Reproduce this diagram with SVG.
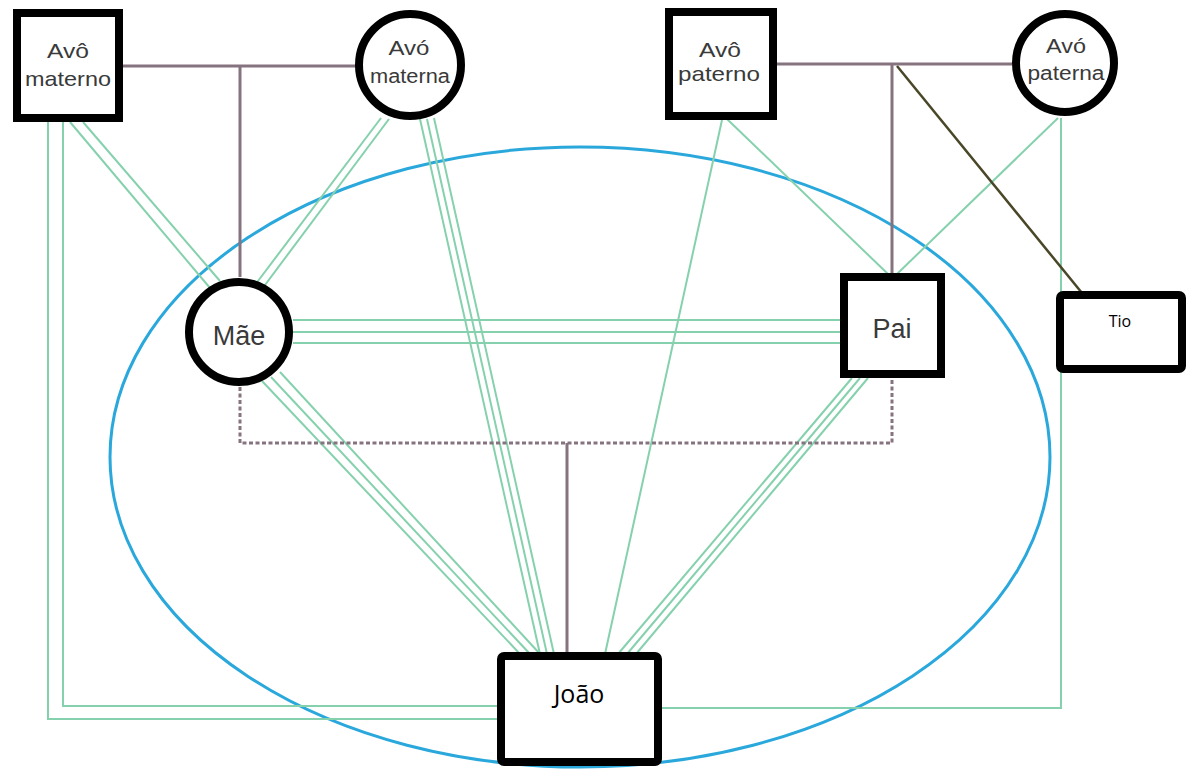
<svg xmlns="http://www.w3.org/2000/svg" width="1192" height="771" viewBox="0 0 1192 771">
<style>
.g{stroke:#86d1ad;stroke-width:2;fill:none}
.p{stroke:#85737f;stroke-width:3;fill:none}
.d{stroke:#85737f;stroke-width:3;fill:none;stroke-dasharray:4 2.5}
.n{fill:#fff;stroke:#000;stroke-width:8}
.t{font-family:"Liberation Sans",Arial,sans-serif;fill:#3a3a3a;text-anchor:middle}
.c{font-family:"Open Sans","Liberation Sans",sans-serif;fill:#000;text-anchor:middle}
</style>
<rect width="1192" height="771" fill="#fff"/>
<ellipse cx="580" cy="457" rx="470" ry="310" fill="none" stroke="#2aa8dc" stroke-width="3"/>
<g id="connectors">
<!-- Avô materno to João (L-shaped) -->
<polyline class="g" points="48,122 48,719 498,719"/>
<polyline class="g" points="63,122 63,706 498,706"/>
<!-- Avô materno to Mãe -->
<line class="g" x1="70" y1="122" x2="210" y2="288"/>
<line class="g" x1="83" y1="122" x2="220" y2="281"/>
<!-- Avó materna to Mãe -->
<line class="g" x1="381" y1="118" x2="255" y2="285"/>
<line class="g" x1="389" y1="119" x2="262" y2="289"/>
<!-- Avó materna to João -->
<line class="g" x1="420" y1="119" x2="540" y2="654"/>
<line class="g" x1="427" y1="119" x2="547" y2="654"/>
<line class="g" x1="434" y1="118" x2="554" y2="654"/>
<!-- Mãe to Pai -->
<line class="g" x1="293" y1="320" x2="840" y2="320"/>
<line class="g" x1="293" y1="332" x2="840" y2="332"/>
<line class="g" x1="293" y1="343" x2="840" y2="343"/>
<!-- Mãe to João -->
<line class="g" x1="262" y1="381" x2="520" y2="654"/>
<line class="g" x1="271" y1="377" x2="530" y2="654"/>
<line class="g" x1="280" y1="372" x2="540" y2="654"/>
<!-- Pai to João -->
<line class="g" x1="852" y1="378" x2="618" y2="654"/>
<line class="g" x1="860" y1="378" x2="627" y2="654"/>
<line class="g" x1="868" y1="378" x2="636" y2="654"/>
<!-- Avô paterno to João -->
<line class="g" x1="722" y1="120" x2="605" y2="654"/>
<!-- Avô paterno to Pai -->
<line class="g" x1="727" y1="119" x2="888" y2="274"/>
<!-- Avó paterna to Pai -->
<line class="g" x1="1058" y1="118" x2="897" y2="274"/>
<!-- Avó paterna to João (L-shaped) -->
<polyline class="g" points="1061,118 1061,708 662,708"/>
<!-- marriage lines -->
<line class="p" x1="123" y1="66" x2="358" y2="66"/>
<line class="p" x1="240" y1="66" x2="240" y2="277"/>
<line class="p" x1="777" y1="64" x2="1012" y2="64"/>
<line class="p" x1="892" y1="64" x2="892" y2="273"/>
<polyline class="d" points="240,387 240,443 892,443 892,378"/>
<line class="p" x1="567" y1="443" x2="567" y2="652"/>
<!-- Tio line -->
<line x1="897" y1="66" x2="1082" y2="293" stroke="#4a4628" stroke-width="2.5"/>
</g>
<g id="avo-materno">
<rect class="n" x="17" y="13" width="102" height="105"/>
<text class="t" x="68" y="58" font-size="21" textLength="42" lengthAdjust="spacingAndGlyphs">Avô</text>
<text class="t" x="68" y="86" font-size="21" textLength="86" lengthAdjust="spacingAndGlyphs">materno</text>
</g>
<g id="avo-materna">
<circle class="n" cx="410" cy="65" r="51"/>
<text class="t" x="409" y="55" font-size="20" textLength="41" lengthAdjust="spacingAndGlyphs">Avó</text>
<text class="t" x="410" y="83" font-size="20" textLength="80" lengthAdjust="spacingAndGlyphs">materna</text>
</g>
<g id="avo-paterno">
<rect class="n" x="669" y="12" width="104" height="104"/>
<text class="t" x="720" y="57" font-size="21" textLength="42" lengthAdjust="spacingAndGlyphs">Avô</text>
<text class="t" x="719" y="81" font-size="21" textLength="82" lengthAdjust="spacingAndGlyphs">paterno</text>
</g>
<g id="avo-paterna">
<circle class="n" cx="1065" cy="63" r="49"/>
<text class="t" x="1066" y="53" font-size="20" textLength="40" lengthAdjust="spacingAndGlyphs">Avó</text>
<text class="t" x="1066" y="80" font-size="20" textLength="77" lengthAdjust="spacingAndGlyphs">paterna</text>
</g>
<g id="mae">
<circle class="n" cx="239" cy="332" r="50"/>
<text class="t" x="239" y="345" font-size="27">Mãe</text>
</g>
<g id="pai">
<rect class="n" x="844" y="277" width="97" height="97"/>
<text class="t" x="892" y="338" font-size="27">Pai</text>
</g>
<g id="tio">
<rect class="n" x="1060" y="295" width="122" height="74" rx="3" stroke-width="7"/>
<text class="c" x="1120" y="327" font-size="16">Tio</text>
</g>
<g id="joao">
<rect class="n" x="501" y="656" width="157" height="106" rx="3"/>
<text class="c" x="579" y="703" font-size="25">João</text>
</g>
</svg>
